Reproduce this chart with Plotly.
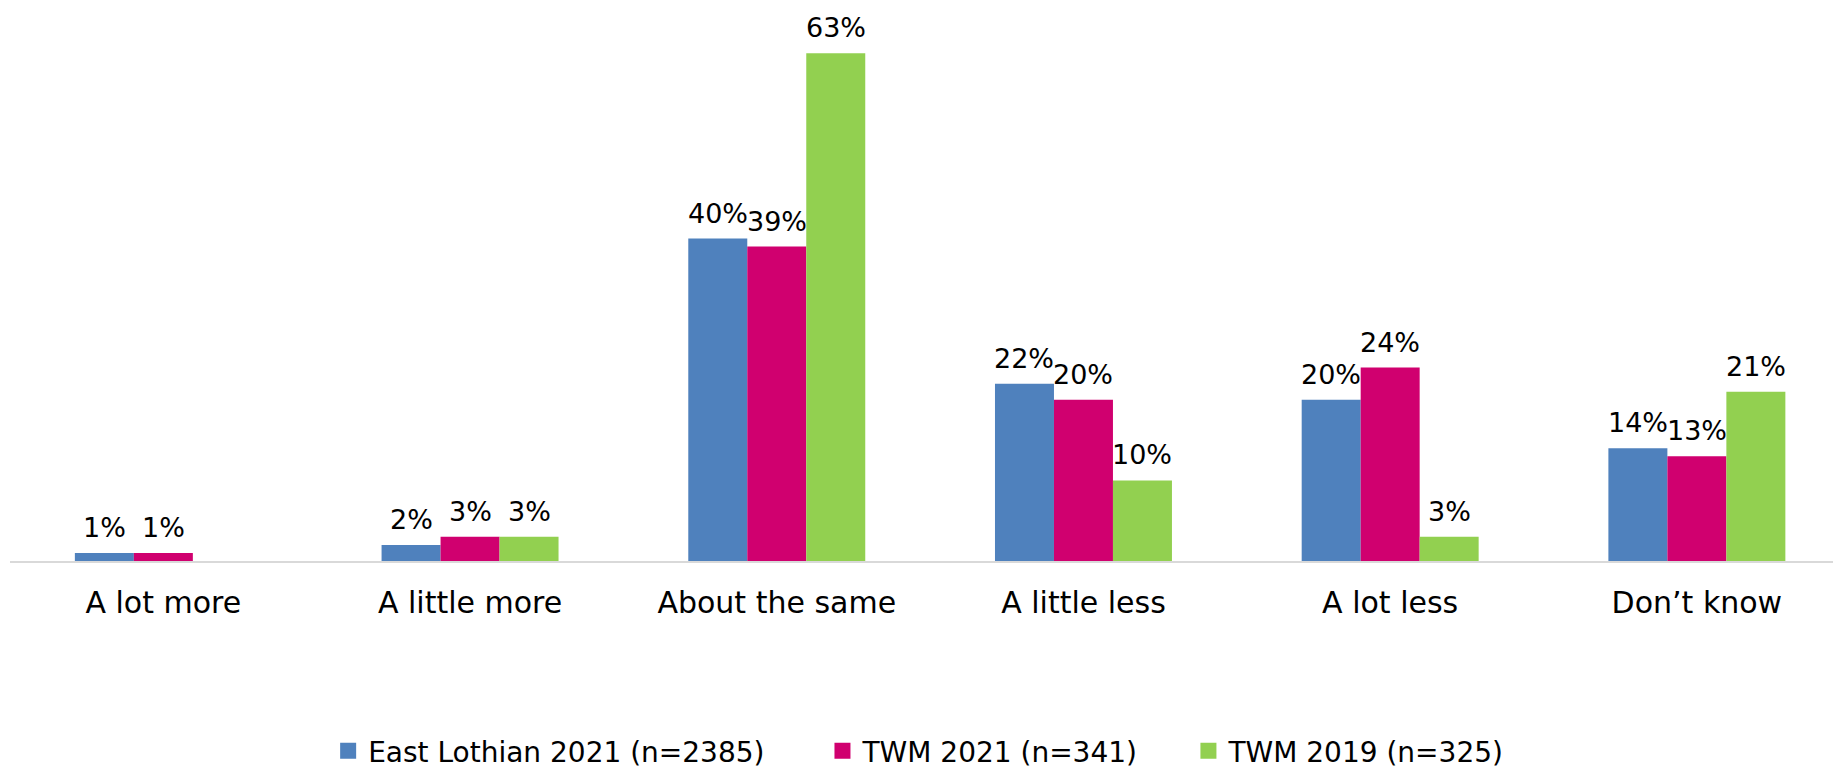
import plotly.graph_objects as go

categories = ["A lot more", "A little more", "About the same", "A little less", "A lot less", "Don’t know"]
east_lothian_2021 = [1, 2, 40, 22, 20, 14]
twm_2021 = [1, 3, 39, 20, 24, 13]
twm_2019 = [None, 3, 63, 10, 3, 21]

series_names = ["East Lothian 2021 (n=2385)", "TWM 2021 (n=341)", "TWM 2019 (n=325)"]
series_values = [east_lothian_2021, twm_2021, twm_2019]
series_colors = ["#4f81bd", "#d0006f", "#92d050"]
legend_x = [0.173, 0.4418, 0.6408]

FONT = "DejaVu Sans"
W, H = 1841, 771
L, R, T, B = 2, 0, 0, 218
XR = [-0.5, 5.496]
YR = [0, 68.6]
BARGAP = 0.423
plotW = W - L - R
bar_px = plotW / (XR[1] - XR[0]) * (1 - BARGAP) / 3

fig = go.Figure()
annotations = []
for i, (name, vals, color) in enumerate(zip(series_names, series_values, series_colors)):
    fig.add_trace(go.Bar(
        x=categories, y=vals, name=name, showlegend=False,
        marker=dict(color=color, line=dict(width=0)),
    ))
    lg = "legend" if i == 0 else f"legend{i+1}"
    fig.add_trace(go.Scatter(
        x=[None], y=[None], name=name, mode="markers", legend=lg,
        marker=dict(symbol="square", size=16, color=color),
    ))
    for c, v in zip(categories, vals):
        if v is None:
            continue
        annotations.append(dict(
            x=c, y=v, xref="x", yref="y", text=f"{v}%", showarrow=False,
            xshift=(i - 1) * bar_px, yanchor="bottom", yshift=8,
            font=dict(family=FONT, size=27, color="#000000"),
        ))

legend_common = dict(orientation="h", xanchor="left", y=-0.3436, yanchor="middle",
                     font=dict(family=FONT, size=28, color="#000000"), bgcolor="rgba(0,0,0,0)")
fig.update_layout(
    width=W, height=H,
    margin=dict(l=L, r=R, t=T, b=B),
    paper_bgcolor="white", plot_bgcolor="white",
    barmode="group", bargap=BARGAP, bargroupgap=0,
    font=dict(family=FONT, size=27, color="#000000"),
    showlegend=True,
    legend=dict(x=legend_x[0], **legend_common),
    legend2=dict(x=legend_x[1], **legend_common),
    legend3=dict(x=legend_x[2], **legend_common),
    annotations=annotations,
)
fig.update_xaxes(range=XR, showline=True, linecolor="#d9d9d9", linewidth=2,
                 ticks="", tickfont=dict(family=FONT, size=30, color="#000000"),
                 ticklabelstandoff=14, showgrid=False, zeroline=False)
fig.update_yaxes(range=YR, visible=False, showgrid=False)
fig.write_html("out.html")
